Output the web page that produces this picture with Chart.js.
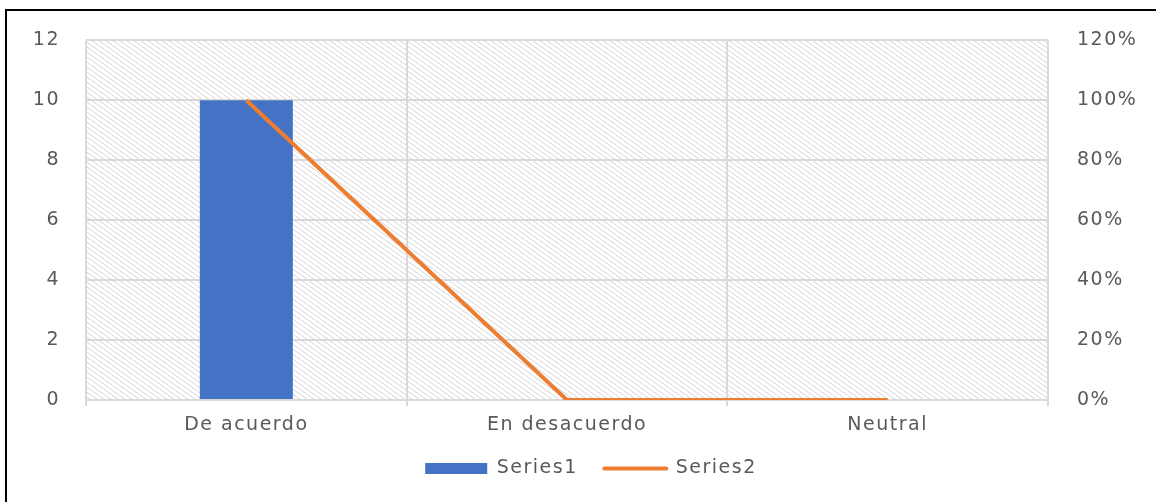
<!DOCTYPE html>
<html>
<head>
<meta charset="utf-8">
<script src="https://cdn.jsdelivr.net/npm/chart.js@4.4.1/dist/chart.umd.min.js"></script>
<style>
  html, body { margin: 0; padding: 0; background: #fff; }
  .wrap { position: relative; width: 1156px; height: 502px; overflow: hidden; }
  .frame {
    position: absolute; left: 5px; top: 9px; width: 1200px; height: 600px;
    border-top: 2px solid #000; border-left: 2px solid #000;
  }
  canvas { position: absolute; left: 0; top: 0; }
</style>
</head>
<body>
<div class="wrap">
  <div class="frame"></div>
  <canvas id="chart" width="1156" height="502"></canvas>
</div>
<script>
// data
const categories = ["De acuerdo", "En desacuerdo", "Neutral"];
const series1 = [10, 0, 0];
const series2 = [1, 0, 0]; // shares, right axis
const countTicks = [0, 2, 4, 6, 8, 10, 12];
const percentTicks = [0, 0.2, 0.4, 0.6, 0.8, 1, 1.2];

const BLUE = "#4472C4";
const ORANGE = "#ED7D31";
const GRID = "#d9d9d9";
const TEXT = "#595959";
const FONT = { family: "'DejaVu Sans', sans-serif", size: 19 };
const SPACING = "1.5px";

// diagonal hatch for the plot area
function makeHatch(ctx) {
  const tile = document.createElement("canvas");
  tile.width = 7;
  tile.height = 5;
  const t = tile.getContext("2d");
  t.strokeStyle = "#d4d4d4";
  t.lineWidth = 1;
  t.beginPath();
  t.moveTo(-7, -5);
  t.lineTo(14, 10);
  t.stroke();
  return ctx.createPattern(tile, "repeat");
}

const hatchPlugin = {
  id: "hatch",
  beforeUpdate(chart) {
    chart.ctx.letterSpacing = SPACING;
  },
  beforeDraw(chart) {
    const { ctx, chartArea: a } = chart;
    ctx.letterSpacing = SPACING;
    ctx.save();
    ctx.fillStyle = makeHatch(ctx);
    ctx.fillRect(a.left, a.top, a.right - a.left, a.bottom - a.top);
    ctx.restore();
  },
};

const ctx = document.getElementById("chart").getContext("2d");

new Chart(ctx, {
  data: {
    labels: categories,
    datasets: [
      {
        type: "line",
        label: "Series2",
        data: series2,
        yAxisID: "y1",
        borderColor: ORANGE,
        backgroundColor: ORANGE,
        borderWidth: 4,
        pointRadius: 0,
        tension: 0,
        order: 0,
      },
      {
        type: "bar",
        label: "Series1",
        data: series1,
        yAxisID: "y",
        backgroundColor: BLUE,
        categoryPercentage: 1,
        barPercentage: 0.29,
        order: 1,
      },
    ],
  },
  options: {
    responsive: false,
    animation: false,
    layout: { padding: { left: 26, right: 0, top: 37, bottom: 14 } },
    plugins: {
      tooltip: { enabled: false },
      legend: {
        position: "bottom",
        labels: {
          color: TEXT,
          font: FONT,
          usePointStyle: true,
          pointStyleWidth: 62,
          boxHeight: 11,
          padding: 19,
          // trailing space widens the gap between the two items
          generateLabels: () => [
            {
              text: "Series1 ",
              fillStyle: BLUE,
              strokeStyle: BLUE,
              lineWidth: 0,
              pointStyle: "rect",
              fontColor: TEXT,
              datasetIndex: 1,
            },
            {
              text: "Series2",
              fillStyle: ORANGE,
              strokeStyle: ORANGE,
              lineWidth: 4,
              lineCap: "round",
              pointStyle: "line",
              fontColor: TEXT,
              datasetIndex: 0,
            },
          ],
        },
      },
    },
    scales: {
      x: {
        offset: true,
        grid: { offset: true, color: GRID, lineWidth: 2, tickLength: 6 },
        border: { display: false },
        ticks: { color: TEXT, font: FONT, padding: 8, maxRotation: 0, autoSkip: false },
        afterFit: (s) => { s.height = 40; },
      },
      y: {
        position: "left",
        min: 0,
        max: 12,
        afterBuildTicks: (s) => { s.ticks = countTicks.map((v) => ({ value: v })); },
        grid: { color: GRID, lineWidth: 2, drawTicks: false },
        border: { display: false },
        ticks: { color: TEXT, font: FONT, padding: 26 },
        afterFit: (s) => { s.width = 60; },
      },
      y1: {
        position: "right",
        min: 0,
        max: 1.2,
        afterBuildTicks: (s) => { s.ticks = percentTicks.map((v) => ({ value: v })); },
        grid: { display: false, drawTicks: false },
        border: { display: false },
        ticks: {
          color: TEXT,
          font: FONT,
          padding: 29,
          callback: (v) => Math.round(v * 100) + "%",
        },
        afterFit: (s) => { s.width = 108; },
      },
    },
  },
  plugins: [hatchPlugin],
});
</script>
</body>
</html>
